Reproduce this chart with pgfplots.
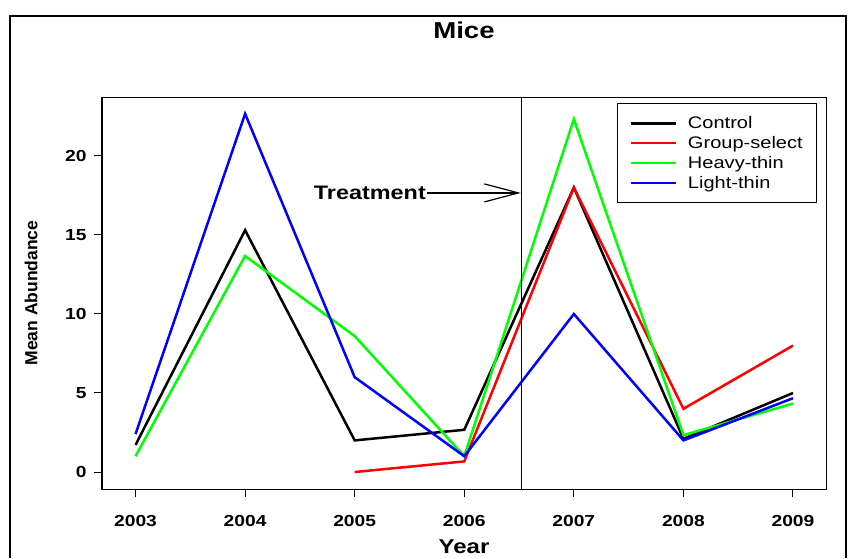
\documentclass[border=0pt]{standalone}
\usepackage{fontspec}
\setmainfont{Liberation Sans}[FakeStretch=1.2]
\newfontfamily\ylfont{Liberation Sans}
\usepackage{pgfplots}
\pgfplotsset{compat=1.18}
\usetikzlibrary{arrows.meta}

\begin{document}
\begin{tikzpicture}
	\useasboundingbox (0,0) rectangle (854pt,558pt);
	% figure frame
	\draw[line width=2pt] (10pt,0pt) -- (10pt,542pt) -- (846pt,542pt) -- (846pt,0pt);
	\begin{axis}[
		at={(102pt,69pt)}, anchor=south west,
		scale only axis,
		width=724pt, height=392pt,
		xmin=2002.694, xmax=2009.301,
		ymin=-1.076, ymax=23.73,
		xtick={2003,...,2009},
		ytick={0,5,10,15,20},
		xtick pos=bottom, ytick pos=left,
		tick align=outside,
		major tick length=8pt,
		axis line style={line width=1pt},
		every tick/.style={black, line width=1pt},
		/pgf/number format/assume math mode=true,
		xticklabel style={/pgf/number format/1000 sep={}, yshift=-15pt},
		yticklabel style={xshift=-4pt},
		ticklabel style={font=\bfseries\fontsize{16}{19}\selectfont},
		title={Mice},
		title style={at={(axis description cs:0.5,1.156)}, anchor=center, font=\bfseries\fontsize{23}{27}\selectfont},
		xlabel={Year},
		xlabel style={at={(axis description cs:0.5,-0.148)}, anchor=center, font=\bfseries\fontsize{20}{24}\selectfont},
		ylabel={Mean Abundance},
		ylabel style={at={(axis description cs:-0.098,0.5)}, anchor=center, rotate=0, font=\ylfont\bfseries\fontsize{17.5}{20}\selectfont},
		legend style={at={(axis description cs:0.7113,0.9847)}, anchor=north west,
			draw=black, line width=1pt, inner xsep=12pt, inner ysep=11pt,
			font=\fontsize{16.7}{19.3}\selectfont, row sep=2.3pt,
			/tikz/every odd column/.append style={column sep=9pt}},
		legend cell align=left,
		legend image code/.code={\draw[#1, line width=2.5pt] (0pt,0pt) -- (45pt,0pt);},
		every axis plot/.append style={line width=2.5pt},
		]
		\addplot[black] coordinates {(2003,1.71) (2004,15.3) (2005,2.0) (2006,2.67) (2007,18.0) (2008,2.1) (2009,5.0)};
		\addplot[red] coordinates {(2005,0) (2006,0.67) (2007,18.0) (2008,4.0) (2009,8.0)};
		\addplot[green] coordinates {(2003,1.0) (2004,13.67) (2005,8.6) (2006,1.0) (2007,22.33) (2008,2.33) (2009,4.33)};
		\addplot[blue] coordinates {(2003,2.4) (2004,22.67) (2005,6.0) (2006,1.0) (2007,10.0) (2008,2.0) (2009,4.67)};
		\legend{Control, Group-select, Heavy-thin, Light-thin}

		% treatment line and arrow
		\addplot[forget plot, black, line width=1pt] coordinates {(2006.52,-1.076) (2006.52,23.73)};
		\draw[line width=1.2pt, -{Straight Barb[length=34pt,width=18pt]}] (axis cs:2005.66,17.66) -- (axis cs:2006.515,17.66);
		\node[anchor=east, inner sep=1pt, font=\bfseries\fontsize{19.5}{23}\selectfont] at (axis cs:2005.66,17.66) {Treatment};
	\end{axis}
\end{tikzpicture}
\end{document}
